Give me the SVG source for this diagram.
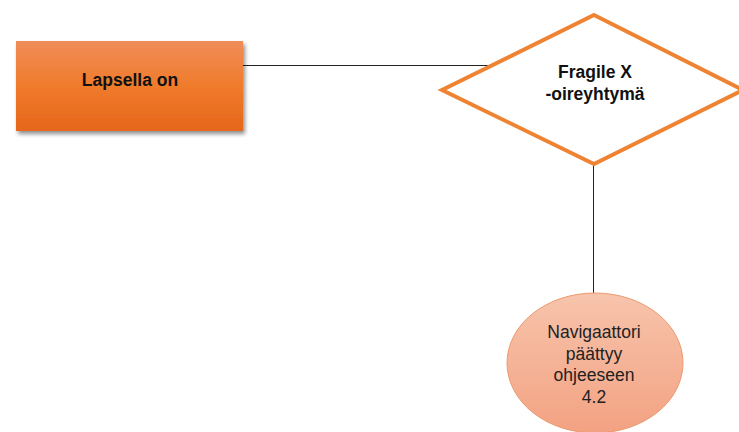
<svg xmlns="http://www.w3.org/2000/svg" width="739" height="432" viewBox="0 0 739 432">
  <defs>
    <linearGradient id="rectFill" x1="0" y1="0" x2="0" y2="1">
      <stop offset="0" stop-color="#F08D58"/>
      <stop offset="0.5" stop-color="#F07B2C"/>
      <stop offset="1" stop-color="#E5661A"/>
    </linearGradient>
    <linearGradient id="ovalFill" x1="0" y1="0" x2="0" y2="1">
      <stop offset="0" stop-color="#F7C4AC"/>
      <stop offset="1" stop-color="#F3A282"/>
    </linearGradient>
    <filter id="shadow" x="-10%" y="-10%" width="130%" height="140%">
      <feGaussianBlur in="SourceAlpha" stdDeviation="2"/>
      <feOffset dx="2" dy="3"/>
      <feComponentTransfer><feFuncA type="linear" slope="0.45"/></feComponentTransfer>
      <feMerge><feMergeNode/><feMergeNode in="SourceGraphic"/></feMerge>
    </filter>
    <style>
      .bold { font-family: "Liberation Sans", Arial, sans-serif; font-weight: bold; font-size: 17.5px; fill: #111; text-anchor: middle; }
      .reg { font-family: "Liberation Sans", Arial, sans-serif; font-size: 17.5px; fill: #222; text-anchor: middle; }
      .conn { stroke: #222; stroke-width: 1; fill: none; }
    </style>
  </defs>
  <rect width="739" height="432" fill="#fff"/>

  <g id="connectors">
    <line class="conn" x1="243" y1="65.5" x2="492" y2="65.5"/>
    <line class="conn" x1="593.5" y1="165" x2="593.5" y2="293"/>
  </g>

  <g id="start">
    <rect x="16" y="41" width="227" height="90" fill="url(#rectFill)" filter="url(#shadow)"/>
    <text class="bold" x="130" y="86">Lapsella on</text>
  </g>

  <g id="decision">
    <polygon points="594,15 743,90 594,164 442,90" fill="#fff" stroke="#EE8433" stroke-width="4" stroke-linejoin="miter"/>
    <text class="bold" x="595" y="78">Fragile X</text>
    <text class="bold" x="595" y="100">-oireyhtymä</text>
  </g>

  <g id="end">
    <ellipse cx="595" cy="363" rx="88" ry="70" fill="url(#ovalFill)" stroke="#EC9A6E" stroke-width="1"/>
    <text class="reg" x="594" y="338">Navigaattori</text>
    <text class="reg" x="594" y="360">päättyy</text>
    <text class="reg" x="594" y="381">ohjeeseen</text>
    <text class="reg" x="594" y="403">4.2</text>
  </g>
</svg>
